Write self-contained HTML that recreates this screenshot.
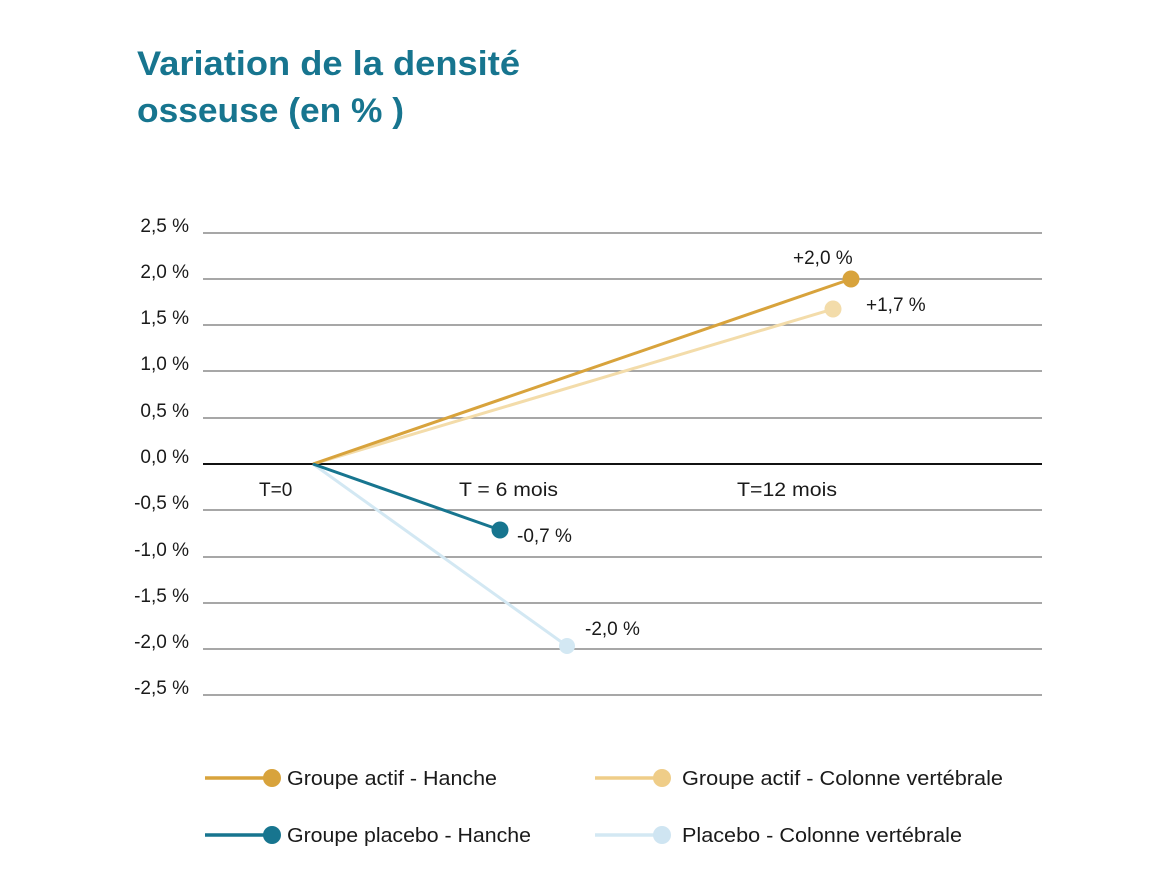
<!DOCTYPE html>
<html><head><meta charset="utf-8"><style>
body{margin:0;background:#fff;width:1170px;height:878px;overflow:hidden}
svg text{font-family:"Liberation Sans",sans-serif;fill:#1a1a1a}
</style></head><body>
<svg width="1170" height="878" xmlns="http://www.w3.org/2000/svg">
<text x="137" y="75" textLength="383" lengthAdjust="spacingAndGlyphs" style="font-size:34px;font-weight:bold;fill:#17758f">Variation de la densité</text>
<text x="137" y="122" textLength="267" lengthAdjust="spacingAndGlyphs" style="font-size:34px;font-weight:bold;fill:#17758f">osseuse (en % )</text>
<g stroke="#8a8a8a" stroke-width="1.5">
<line x1="203" x2="1042" y1="233" y2="233"/><line x1="203" x2="1042" y1="279" y2="279"/>
<line x1="203" x2="1042" y1="325" y2="325"/><line x1="203" x2="1042" y1="371" y2="371"/>
<line x1="203" x2="1042" y1="418" y2="418"/>
<line x1="203" x2="1042" y1="510" y2="510"/><line x1="203" x2="1042" y1="557" y2="557"/>
<line x1="203" x2="1042" y1="603" y2="603"/><line x1="203" x2="1042" y1="649" y2="649"/>
<line x1="203" x2="1042" y1="695" y2="695"/>
</g>
<line x1="203" x2="1042" y1="464" y2="464" stroke="#111" stroke-width="2"/>
<g style="font-size:19px" text-anchor="end">
<text x="189" y="232">2,5 %</text><text x="189" y="278">2,0 %</text><text x="189" y="324">1,5 %</text>
<text x="189" y="370">1,0 %</text><text x="189" y="417">0,5 %</text><text x="189" y="463">0,0 %</text>
<text x="189" y="509">-0,5 %</text><text x="189" y="556">-1,0 %</text><text x="189" y="602">-1,5 %</text>
<text x="189" y="648">-2,0 %</text><text x="189" y="694">-2,5 %</text>
</g>
<g style="font-size:19px">
<text x="259" y="496">T=0</text><text x="459" y="496" textLength="99" lengthAdjust="spacingAndGlyphs">T = 6 mois</text><text x="737" y="496" textLength="100" lengthAdjust="spacingAndGlyphs">T=12 mois</text>
<text x="793" y="264">+2,0 %</text><text x="866" y="311">+1,7 %</text>
<text x="517" y="542">-0,7 %</text><text x="585" y="635">-2,0 %</text>
</g>
<line x1="313" y1="464" x2="567" y2="646" stroke="#d3e8f3" stroke-width="3"/>
<circle cx="567" cy="646" r="8" fill="#d3e8f3"/>
<line x1="313" y1="464" x2="833" y2="309" stroke="#f3dcaa" stroke-width="3"/>
<circle cx="833" cy="309" r="8.5" fill="#f3dcaa"/>
<line x1="313" y1="464" x2="851" y2="279" stroke="#d8a33c" stroke-width="3"/>
<circle cx="851" cy="279" r="8.5" fill="#d8a33c"/>
<line x1="313" y1="464" x2="500" y2="530" stroke="#17758f" stroke-width="3"/>
<circle cx="500" cy="530" r="8.5" fill="#17758f"/>
<g style="font-size:20px">
<line x1="205" x2="272" y1="778" y2="778" stroke="#d8a33c" stroke-width="3.5"/><circle cx="272" cy="778" r="9" fill="#d8a33c"/>
<text x="287" y="785" textLength="210" lengthAdjust="spacingAndGlyphs">Groupe actif - Hanche</text>
<line x1="595" x2="662" y1="778" y2="778" stroke="#efcd88" stroke-width="3.5"/><circle cx="662" cy="778" r="9" fill="#efcd88"/>
<text x="682" y="785" textLength="321" lengthAdjust="spacingAndGlyphs">Groupe actif - Colonne vertébrale</text>
<line x1="205" x2="272" y1="835" y2="835" stroke="#17758f" stroke-width="3.5"/><circle cx="272" cy="835" r="9" fill="#17758f"/>
<text x="287" y="842" textLength="244" lengthAdjust="spacingAndGlyphs">Groupe placebo - Hanche</text>
<line x1="595" x2="662" y1="835" y2="835" stroke="#d3e8f3" stroke-width="3.5"/><circle cx="662" cy="835" r="9" fill="#cfe5f2"/>
<text x="682" y="842" textLength="280" lengthAdjust="spacingAndGlyphs">Placebo - Colonne vertébrale</text>
</g>
</svg>
</body></html>
